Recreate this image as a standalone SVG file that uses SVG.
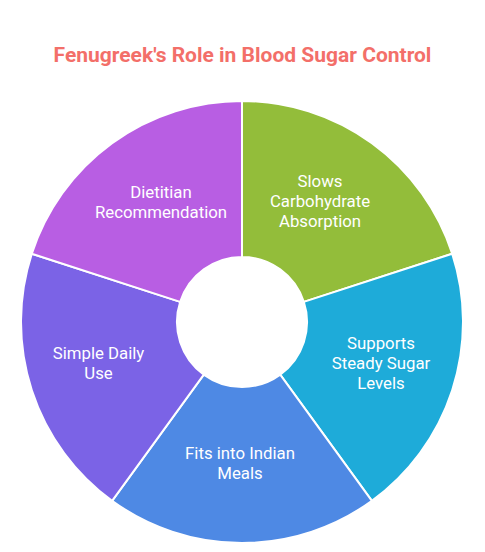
<svg xmlns="http://www.w3.org/2000/svg" width="485" height="552" viewBox="0 0 485 552">
<style>
.title{font-family:Roboto,"Liberation Sans",sans-serif;font-weight:bold;font-size:21px;fill:#f36f69;text-anchor:middle}
.seg{stroke:#ffffff;stroke-width:2;stroke-linejoin:round}
.lbl{font-family:Roboto,"Liberation Sans",sans-serif;font-size:16.8px;fill:#ffffff;text-anchor:middle}
</style>
<rect width="485" height="552" fill="#ffffff"/>
<text class="title" x="242.5" y="62">Fenugreek's Role in Blood Sugar Control</text>
<g id="connectors"></g>
<g id="seg1">
<path class="seg" fill="#93bd3a" d="M242,101 A221,221 0 0 1 452.18,253.71 L303.82,301.91 A65,65 0 0 0 242,257 Z"/>
<text class="lbl" x="320" y="187">Slows</text>
<text class="lbl" x="320" y="207">Carbohydrate</text>
<text class="lbl" x="320" y="227">Absorption</text>
</g>
<g id="seg2">
<path class="seg" fill="#1eabd9" d="M452.18,253.71 A221,221 0 0 1 371.90,500.79 L280.21,374.59 A65,65 0 0 0 303.82,301.91 Z"/>
<text class="lbl" x="381" y="349">Supports</text>
<text class="lbl" x="381" y="369">Steady Sugar</text>
<text class="lbl" x="381" y="389">Levels</text>
</g>
<g id="seg3">
<path class="seg" fill="#4e89e4" d="M371.90,500.79 A221,221 0 0 1 112.10,500.79 L203.79,374.59 A65,65 0 0 0 280.21,374.59 Z"/>
<text class="lbl" x="240" y="459">Fits into Indian</text>
<text class="lbl" x="240" y="479">Meals</text>
</g>
<g id="seg4">
<path class="seg" fill="#7b63e6" d="M112.10,500.79 A221,221 0 0 1 31.82,253.71 L180.18,301.91 A65,65 0 0 0 203.79,374.59 Z"/>
<text class="lbl" x="98.5" y="359">Simple Daily</text>
<text class="lbl" x="98.5" y="379">Use</text>
</g>
<g id="seg5">
<path class="seg" fill="#b85ee3" d="M31.82,253.71 A221,221 0 0 1 242,101 L242,257 A65,65 0 0 0 180.18,301.91 Z"/>
<text class="lbl" x="161" y="198">Dietitian</text>
<text class="lbl" x="161" y="218">Recommendation</text>
</g>
</svg>
